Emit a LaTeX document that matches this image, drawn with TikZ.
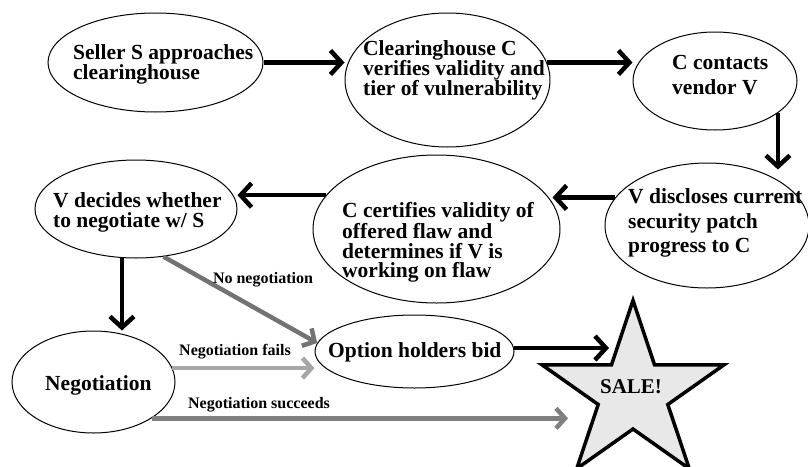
\documentclass[tikz,border=0pt]{standalone}
\usepackage{fontspec}
\setmainfont{Liberation Serif}
\usetikzlibrary{arrows.meta,shapes.geometric,calc}
\begin{document}
\begin{tikzpicture}[x=1pt,y=-1pt,
  ell/.style={draw=black, line width=1pt, ellipse, inner sep=0pt},
  txt/.style={anchor=north west, inner sep=0pt, align=left, font=\bfseries\fontsize{21.5}{#1}\selectfont},
  txt/.default=20,
  lab/.style={anchor=base, inner sep=0pt, font=\bfseries\fontsize{16}{18}\selectfont},
  arr/.style={line width=4.5pt, -{Straight Barb[length=11pt,width=24pt]}},
  garr/.style={line width=4.5pt, -{Straight Barb[length=9pt,width=20pt]}},
]
\useasboundingbox[fill=white] (0,0) rectangle (808,466);

% ellipses
\node[ell, minimum width=215pt, minimum height=99pt] (e1) at (155.5,62.5) {};
\node[ell, minimum width=205pt, minimum height=134pt] (e2) at (447.5,80) {};
\node[ell, minimum width=164pt, minimum height=98pt] (e3) at (715,81) {};
\node[ell, minimum width=204pt, minimum height=125pt] (e4) at (707,225.5) {};
\node[ell, minimum width=247pt, minimum height=148pt] (e5) at (436.5,229) {};
\node[ell, minimum width=202pt, minimum height=98pt] (e6) at (136,209) {};
\node[ell, minimum width=163pt, minimum height=102pt] (e7) at (93.5,382) {};
\node[ell, minimum width=199pt, minimum height=73pt] (e8) at (414.5,351.5) {};

% texts
\node[txt] (t1) at (73,44.5) {Seller S approaches\\clearinghouse};
\node[txt] (t2) at (363,40.5) {Clearinghouse C\\verifies validity and\\tier of vulnerability};
\node[txt=25] (t3) at (672,55.5) {C contacts\\vendor V};
\node[txt=24.5] (t4) at (628,188.5) {V discloses current\\security patch\\progress to C};
\node[txt=19.5] (t5) at (342,202.5) {C certifies validity of\\offered flaw and\\determines if V is\\working on flaw};
\node[txt] (t6) at (53,192.5) {V decides whether\\to negotiate w/ S};
\node[txt, anchor=base west] (t7) at (45,390) {Negotiation};
\node[txt, anchor=base west] (t8) at (328,357) {Option holders bid};

% star
\node[star, star points=5, star point ratio=2.618, minimum size=186pt, inner sep=0pt,
      draw=black, line width=3.5pt, fill=black!9, xscale=1.03] (star) at (633,393.5) {};
\node[font=\bfseries\fontsize{21}{22}\selectfont, anchor=base, inner sep=0pt] (sale) at (631,393) {SALE!};

% black arrows
\draw[arr] (e1.east) -- (e1.east -| e2.west);
\draw[arr] (e2.10) -- (e2.10 -| e3.west);
\draw[arr] (e3.-27) -- ($(e3.-27 |- e4.north)+(0,7)$);
\draw[arr] (e4.163) -- ($(e4.163 -| e5.east)+(-8,0)$);
\draw[arr] (e5.163) -- (e5.163 -| e6.east);
\draw[arr] (e6.-106) -- (e6.-106 |- e7.north);
\coordinate (sin) at ($(star.center)+(-24,-45.5)$);
\draw[arr] (e8.2) -- (e8.2 -| sin);

% gray arrows
\draw[garr, draw=black!55] (e6.-60) -- (e8.175);
\draw[garr, draw=black!35] (e7.10) -- (e7.10 -| e8.west);
\coordinate (slow) at ($(star.center)+(-65,24.5)$);
\draw[garr, draw=black!50] (e7.-32) -- (e7.-32 -| slow);

% labels
\node[lab] (l1) at (263,283) {No negotiation};
\node[lab] (l2) at (235,355) {Negotiation fails};
\node[lab] (l3) at (259,408) {Negotiation succeeds};
\end{tikzpicture}
\end{document}
